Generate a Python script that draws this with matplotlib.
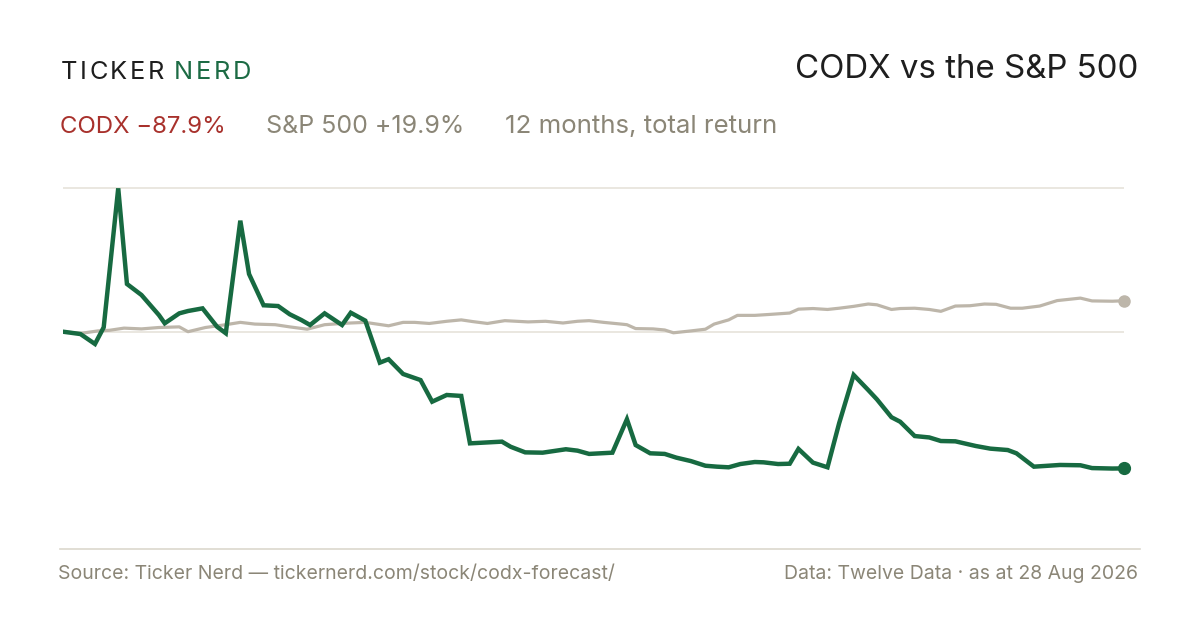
import matplotlib
matplotlib.use("Agg")
import matplotlib.pyplot as plt
from matplotlib.lines import Line2D

# ---------------- data (days since start, total return %) ----------------
codx_day = [0, 6, 11, 14, 19, 22, 27, 33, 35, 40, 43, 48, 53, 56, 61, 64, 69, 74,
            78, 82, 85, 90, 96, 99, 104, 109, 112, 117, 123, 127, 132, 137, 140,
            151, 154, 159, 165, 173, 177, 181, 189, 194, 197, 202, 207, 211, 216,
            221, 225, 229, 233, 238, 241, 246, 250, 253, 258, 263, 267, 272, 277,
            280, 285, 288, 293, 298, 302, 307, 314, 319, 325, 328, 334, 343, 350,
            354, 361, 365]
codx_ret = [0.0, -1.5, -7.9, 2.8, 92.2, 30.7, 23.6, 10.7, 5.4, 11.8, 13.3, 15.0,
            3.2, -1.0, 71.4, 37.1, 17.0, 16.5, 11.2, 7.5, 4.3, 11.8, 4.3, 12.2,
            7.1, -19.9, -17.7, -27.2, -31.1, -45.0, -40.7, -41.3, -71.8, -70.7,
            -74.0, -77.6, -77.8, -75.6, -76.5, -78.6, -77.8, -56.3, -72.9, -78.2,
            -78.6, -81.0, -83.2, -86.2, -86.8, -87.2, -85.1, -83.8, -84.0, -85.1,
            -84.9, -75.4, -84.2, -87.2, -58.9, -27.8, -37.5, -43.5, -55.0, -57.9,
            -67.1, -68.0, -70.3, -70.5, -73.5, -75.2, -76.1, -78.2, -86.8, -85.7,
            -85.9, -87.7, -88.0, -87.9]

spx_day = [0, 6, 12, 16, 21, 27, 33, 40, 43, 49, 56, 61, 66, 73, 78, 84, 90, 96,
           99, 104, 108, 112, 117, 121, 126, 132, 137, 141, 146, 152, 156, 160,
           166, 172, 177, 181, 186, 192, 194, 197, 203, 207, 210, 216, 221, 224,
           229, 232, 238, 243, 250, 253, 258, 263, 267, 272, 277, 280, 285, 288,
           293, 298, 302, 307, 312, 317, 321, 326, 330, 336, 342, 350, 354, 361,
           365]
spx_ret = [0.0, -1.1, 0.5, 0.9, 2.3, 1.8, 2.7, 3.1, 0.0, 2.7, 4.5, 6.0, 4.9, 4.5,
           3.1, 1.6, 4.5, 5.3, 5.6, 6.0, 4.9, 3.8, 6.0, 6.0, 5.3, 6.7, 7.6, 6.5,
           5.3, 7.1, 6.7, 6.3, 6.7, 5.6, 6.7, 7.1, 6.0, 4.9, 4.5, 2.0, 1.8, 1.1,
           -0.7, 0.5, 1.6, 4.9, 7.6, 10.5, 10.5, 11.1, 12.0, 14.5, 14.9, 14.3,
           15.1, 16.3, 17.8, 17.3, 14.3, 14.9, 15.1, 14.3, 13.1, 16.5, 16.7, 17.8,
           17.6, 15.1, 15.1, 16.5, 20.0, 21.6, 19.8, 19.6, 19.9]

title = "CODX vs the S&P 500"
codx_label = "CODX \u221287.9%"
spx_label = "S&P 500 +19.9%"
period_label = "12 months, total return"
source_text = "Source: Ticker Nerd \u2014 tickernerd.com/stock/codx-forecast/"
data_text = "Data: Twelve Data \u00b7 as at 28 Aug 2026"

# ---------------- style ----------------
GREEN = "#176a41"
SPX = "#bdb6aa"
RED = "#a8312c"
GRAY = "#8b8677"
DARK = "#1e1e1e"
GRID = "#e8e5dd"
FONT = ["Inter", "DejaVu Sans"]

W, H = 1200, 630
fig = plt.figure(figsize=(W / 100, H / 100), dpi=100)
fig.patch.set_facecolor("white")

def fx(x):
    return x / W

def fy(y):
    return 1 - y / H

# axes placed so x 0..365 spans px 63..1124 and y -100..100 spans px 487..176
ax = fig.add_axes([fx(63), fy(487.2), fx(1124) - fx(63), (487.2 - 176.2) / H])
ax.set_xlim(0, 365)
ax.set_ylim(-100, 100)
ax.axis("off")

top_grid = max(codx_ret)
for gy in (0, top_grid):
    ax.plot([0, 365], [gy, gy], color=GRID, lw=1.3, zorder=1, solid_capstyle="butt")

ax.plot(spx_day, spx_ret, color=SPX, lw=2.3, zorder=2, solid_joinstyle="round",
        solid_capstyle="round")
ax.plot(codx_day, codx_ret, color=GREEN, lw=3.2, zorder=3, solid_joinstyle="miter",
        solid_capstyle="round")
ax.plot([spx_day[-1]], [spx_ret[-1]], "o", color=SPX, ms=8, zorder=4, clip_on=False)
ax.plot([codx_day[-1]], [codx_ret[-1]], "o", color=GREEN, ms=8.5, zorder=5, clip_on=False)

# bottom rule
fig.add_artist(Line2D([fx(60), fx(1140)], [fy(548.5), fy(548.5)], color="#dcd8cd",
                      lw=1.2))

# ---------------- texts ----------------
renderer = fig.canvas.get_renderer()

def tracked(x, y, s, size, color, track):
    for ch in s:
        t = fig.text(fx(x), fy(y), ch, fontsize=size, color=color, family=FONT,
                     va="baseline", ha="left")
        bb = t.get_window_extent(renderer)
        x += bb.width + track
    return x

xe = tracked(60.5, 79.3, "TICKER", 18.3, DARK, 2.6)
tracked(xe + 7.5, 79.3, "NERD", 18.3, "#1c6b44", 2.6)

fig.text(fx(1138), fy(77.7), title, fontsize=23.8, color=DARK, family=FONT,
         ha="right", va="baseline")

fig.text(fx(60), fy(133.3), codx_label, fontsize=17.3, color=RED, family=FONT,
         ha="left", va="baseline")
fig.text(fx(266), fy(133.3), spx_label, fontsize=18.0, color=GRAY, family=FONT,
         ha="left", va="baseline")
fig.text(fx(505), fy(133.3), period_label, fontsize=18.6, color=GRAY, family=FONT,
         ha="left", va="baseline")

fig.text(fx(58.5), fy(579.3), source_text, fontsize=14.0, color=GRAY, family=FONT,
         ha="left", va="baseline")
fig.text(fx(1138), fy(579.3), data_text, fontsize=14.0, color=GRAY, family=FONT,
         ha="right", va="baseline")

fig.savefig("out.png", dpi=100, facecolor="white")
